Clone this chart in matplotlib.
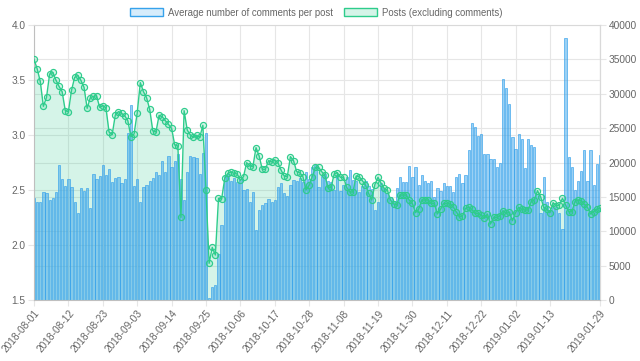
import numpy as np
import pandas as pd
import matplotlib
matplotlib.use('Agg')
import matplotlib.pyplot as plt
from matplotlib.patches import Patch

plt.rcParams['font.family'] = ['Liberation Sans', 'DejaVu Sans']

# --- dados ---
dates = pd.date_range('2018-08-01', '2019-01-29', freq='D').strftime('%Y-%m-%d').tolist()

avg_comments = [
    2.43, 2.39, 2.39, 2.48, 2.47, 2.41, 2.43, 2.48, 2.73, 2.60,
    2.54, 2.60, 2.53, 2.39, 2.29, 2.52, 2.49, 2.52, 2.34, 2.65,
    2.60, 2.63, 2.73, 2.64, 2.69, 2.57, 2.61, 2.62, 2.56, 2.60,
    3.02, 3.27, 2.54, 2.60, 2.39, 2.53, 2.55, 2.58, 2.61, 2.66,
    2.64, 2.76, 2.66, 2.81, 2.71, 2.76, 2.83, 2.60, 2.41, 2.66,
    2.81, 2.80, 2.79, 2.65, 2.84, 3.02, 1.52, 1.62, 1.64, 1.92,
    2.18, 2.63, 2.65, 2.58, 2.61, 2.57, 2.60, 2.50, 2.51, 2.39,
    2.48, 2.14, 2.32, 2.36, 2.38, 2.42, 2.39, 2.41, 2.53, 2.56,
    2.47, 2.45, 2.55, 2.59, 2.58, 2.61, 2.57, 2.66, 2.60, 2.71,
    2.73, 2.53, 2.63, 2.65, 2.58, 2.57, 2.50, 2.64, 2.49, 2.55,
    2.62, 2.68, 2.59, 2.58, 2.48, 2.54, 2.58, 2.54, 2.51, 2.32,
    2.39, 2.56, 2.52, 2.47, 2.44, 2.39, 2.52, 2.62, 2.57, 2.57,
    2.72, 2.62, 2.71, 2.55, 2.64, 2.58, 2.56, 2.58, 2.44, 2.52,
    2.49, 2.56, 2.54, 2.54, 2.48, 2.62, 2.65, 2.56, 2.64, 2.86,
    3.11, 3.07, 2.99, 3.01, 2.83, 2.83, 2.78, 2.78, 2.71, 2.75,
    3.51, 3.43, 3.28, 2.98, 2.87, 3.01, 2.96, 2.70, 2.96, 2.91,
    2.89, 2.46, 2.29, 2.62, 2.39, 2.32, 2.35, 2.35, 2.29, 2.15,
    3.88, 2.80, 2.71, 2.50, 2.58, 2.67, 2.86, 2.58, 2.86, 2.55,
    2.74, 2.82,
]

posts = [
    35006, 33648, 31806, 28170, 29479, 32873, 33115, 32000, 31079, 30303,
    27539, 27394, 30497, 32388, 32679, 31951, 30933, 27879, 29430, 29624,
    29721, 28024, 28267, 27976, 24436, 24048, 26909, 27394, 27152, 26812,
    26085, 23758, 24145, 27200, 31612, 30303, 29430, 27733, 24582, 24436,
    26861, 26667, 26085, 25552, 24970, 22545, 22400, 12024, 27539, 24727,
    24000, 23661, 23952, 23661, 25406, 16000, 5333, 7661, 6545, 14788,
    14691, 17697, 18424, 18618, 18424, 18327, 17406, 17939, 19976, 19539,
    19394, 22158, 20945, 19006, 19006, 20267, 20073, 20364, 19976, 18909,
    18036, 17939, 20848, 20267, 18667, 18521, 17939, 16000, 16679, 17939,
    19297, 19297, 18667, 18182, 16339, 16388, 18327, 18521, 17842, 17842,
    16388, 15709, 15709, 18036, 17939, 17358, 16727, 15515, 14545, 16776,
    17842, 16970, 16242, 16000, 14545, 13964, 13818, 15273, 15273, 15273,
    14545, 14061, 12703, 13188, 14545, 14545, 14545, 14061, 14061, 12509,
    13188, 14061, 14061, 13964, 13576, 12848, 12121, 12218, 13333, 13479,
    13188, 12606, 12606, 12364, 11879, 12509, 11055, 12024, 12024, 12218,
    12994, 12606, 12752, 11539, 12703, 13479, 13188, 13091, 13091, 14303,
    14545, 15903, 15030, 13479, 13188, 12703, 14158, 13673, 13818, 14788,
    13818, 12848, 12848, 14303, 14545, 14400, 13915, 13479, 12509, 12848,
    13236, 13333,
]

left_ticks = [1.5, 2.0, 2.5, 3.0, 3.5, 4.0]
right_ticks = list(range(0, 40001, 5000))
tick_idx = list(range(0, 166, 11)) + [len(dates) - 1]

# --- estilo ---
blue = (54/255, 162/255, 235/255)
green = (46/255, 204/255, 140/255)
grid_c = (0.9, 0.9, 0.9)
text_c = '#666666'

# eixo da direita (posts) convertido para a escala da esquerda
p2l = lambda p: 1.5 + np.asarray(p) / 16000.0
l2p = lambda y: (np.asarray(y) - 1.5) * 16000.0

fig = plt.figure(figsize=(6.4, 3.61), dpi=100)
ax = fig.add_axes([34/640, 61/361, 566/640, 275/361])
x = np.arange(len(dates))

ax.fill_between(x, p2l(posts), 1.5, color=green, alpha=0.2, lw=0, zorder=1)
ax.bar(x, avg_comments, width=0.72, color=(*blue, 0.5), edgecolor=(*blue, 0.9),
       linewidth=0.5, zorder=2)
ax.plot(x, p2l(posts), color=green, lw=1.0, marker='o', markersize=4.4,
        markerfacecolor=(*green, 0.2), markeredgecolor=green,
        markeredgewidth=0.85, zorder=3)

ax.set_xlim(0, len(dates) - 1)
ax.set_ylim(1.5, 4.0)
ax.set_yticks(left_ticks)
ax.set_yticklabels([f'{v:.1f}' for v in left_ticks])
ax.set_yticks(p2l(right_ticks), minor=True)
ax.set_xticks(tick_idx)
ax.set_xticklabels([dates[i] for i in tick_idx], rotation=50, ha='right',
                   rotation_mode='anchor')

ax.set_axisbelow(True)
ax.grid(True, which='both', axis='y', color=grid_c, lw=0.8)
ax.grid(True, which='major', axis='x', color=grid_c, lw=0.8)
ax.tick_params(which='major', length=4, color=grid_c, labelsize=7.3,
               labelcolor=text_c, pad=2)
ax.tick_params(which='minor', length=0)

for side in ['left', 'bottom']:
    ax.spines[side].set_color((0.75, 0.75, 0.75))
for side in ['top', 'right']:
    ax.spines[side].set_color((0.85, 0.85, 0.85))
for s in ax.spines.values():
    s.set_linewidth(0.8)

sec = ax.secondary_yaxis('right', functions=(l2p, p2l))
sec.set_yticks(right_ticks)
sec.tick_params(length=4, color=grid_c, labelsize=7.3, labelcolor=text_c, pad=2)
sec.spines['right'].set_color((0.85, 0.85, 0.85))
sec.spines['right'].set_linewidth(0.8)

handles = [Patch(facecolor=(*blue, 0.2), edgecolor=blue, lw=1.0),
           Patch(facecolor=(*green, 0.2), edgecolor=green, lw=1.0)]
fig.legend(handles, ['Average number of comments per post', 'Posts (excluding comments)'],
           loc='upper center', bbox_to_anchor=(0.494, 1.003), ncol=2, frameon=False,
           fontsize=6.95, labelcolor=text_c, handlelength=3.4, handleheight=0.95,
           handletextpad=0.5, columnspacing=1.2)

fig.savefig('out.png', dpi=100)
